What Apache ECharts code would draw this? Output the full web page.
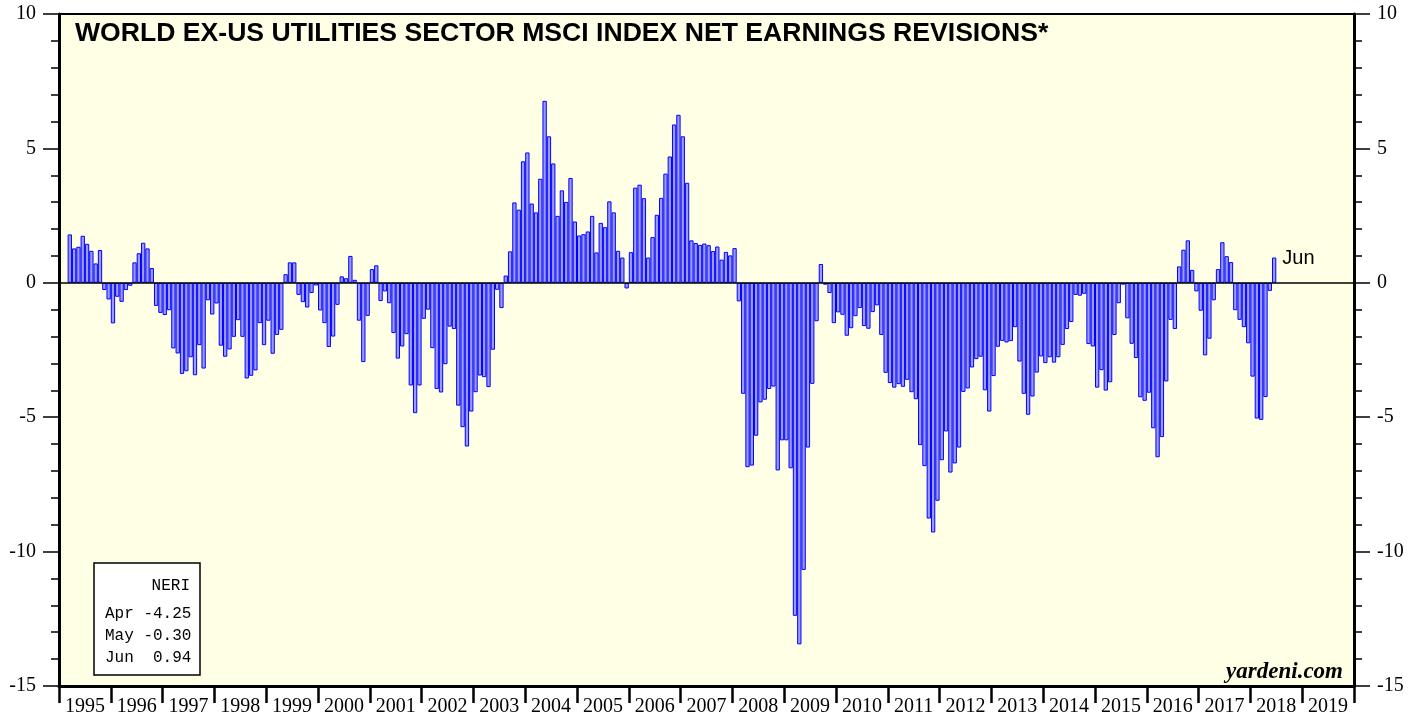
<!DOCTYPE html>
<html>
<head>
<meta charset="UTF-8">
<title>World ex-US Utilities NERI</title>
<script src="https://cdn.jsdelivr.net/npm/echarts@6/dist/echarts.min.js"></script>
<style>
html, body {margin:0; padding:0; background:#fff;}
#chart {width:1419px; height:717px;}
</style>
</head>
<body>
<div id="chart"></div>
<script>
// year bands along the bottom axis
var years = ['1995','1996','1997','1998','1999','2000','2001','2002','2003','2004','2005','2006',
             '2007','2008','2009','2010','2011','2012','2013','2014','2015','2016','2017','2018','2019'];
var monthNames = ['Jan','Feb','Mar','Apr','May','Jun','Jul','Aug','Sep','Oct','Nov','Dec'];

// first bar is Mar 1995 (month index 2 counted from Jan 1995)
var firstMonth = 2;

// monthly net earnings revisions, % (Mar 1995 .. Jun 2018)
var neri = [
    1.80, 1.28, 1.34, 1.75, 1.45, 1.19, 0.72, 1.22, -0.27, -0.62,                    // 1995
    -1.51, -0.52, -0.71, -0.27, -0.11, 0.76, 1.10, 1.49, 1.28, 0.55, -0.86, -1.12,   // 1996
    -1.20, -1.02, -2.44, -2.63, -3.39, -3.29, -2.77, -3.44, -2.32, -3.19, -0.65, -1.18, // 1997
    -0.77, -2.34, -2.75, -2.48, -2.01, -1.39, -2.01, -3.56, -3.46, -3.26, -1.50, -2.32, // 1998
    -1.41, -2.64, -1.94, -1.75, 0.32, 0.76, 0.76, -0.45, -0.72, -0.92, -0.38, -0.10, // 1999
    -1.03, -1.50, -2.39, -2.00, -0.82, 0.24, 0.17, 1.00, 0.11, -1.41, -2.95, -1.23,  // 2000
    0.51, 0.65, -0.68, -0.32, -0.76, -1.87, -2.82, -2.37, -1.91, -3.82, -4.85, -3.82, // 2001
    -1.34, -1.00, -2.43, -3.95, -4.08, -3.03, -1.63, -1.72, -4.57, -5.37, -6.09, -4.79, // 2002
    -4.07, -3.45, -3.51, -3.88, -2.49, -0.26, -0.94, 0.27, 1.17, 2.99, 2.72, 4.52,   // 2003
    4.85, 2.95, 2.62, 3.87, 6.77, 5.45, 4.44, 2.49, 3.44, 3.01, 3.90, 2.28,          // 2004
    1.76, 1.81, 1.91, 2.49, 1.13, 2.23, 2.07, 3.03, 2.62, 1.19, 0.94, -0.21,         // 2005
    1.14, 3.54, 3.65, 3.15, 0.94, 1.70, 2.53, 3.16, 4.06, 4.70, 5.89, 6.25,          // 2006
    5.45, 3.72, 1.58, 1.48, 1.41, 1.46, 1.40, 1.18, 1.35, 0.86, 1.15, 1.02,          // 2007
    1.29, -0.69, -4.13, -6.86, -6.80, -5.69, -4.45, -4.35, -3.95, -3.86, -6.98, -5.86, // 2008
    -5.86, -6.90, -12.39, -13.45, -10.68, -6.13, -3.76, -1.43, 0.70, -0.07, -0.38, -1.50, // 2009
    -1.10, -1.19, -1.97, -1.69, -1.24, -0.94, -1.61, -1.71, -1.09, -0.84, -1.94, -3.35, // 2010
    -3.73, -3.90, -3.77, -3.87, -3.61, -4.07, -4.33, -6.04, -6.82, -8.77, -9.29, -8.11, // 2011
    -6.60, -5.53, -7.06, -6.72, -6.13, -4.06, -3.93, -3.15, -2.84, -2.75, -4.00, -4.79, // 2012
    -3.47, -2.38, -2.16, -2.22, -2.17, -1.65, -2.93, -4.13, -4.91, -4.23, -3.34, -2.74, // 2013
    -2.99, -2.77, -2.97, -2.77, -2.31, -1.72, -1.46, -0.45, -0.48, -0.41, -2.28, -2.37, // 2014
    -3.90, -3.25, -4.01, -3.70, -1.94, -0.76, -0.07, -1.32, -2.27, -2.80, -4.26, -4.39, // 2015
    -4.09, -5.41, -6.49, -5.74, -3.67, -1.38, -1.72, 0.61, 1.23, 1.58, 0.48, -0.32,  // 2016
    -1.04, -2.70, -2.08, -0.65, 0.51, 1.51, 0.99, 0.77, -1.02, -1.38, -1.65, -2.25,  // 2017
    -3.49, -5.05, -5.10, -4.25, -0.30, 0.94                                          // 2018
];

// month categories for the bar axis
var monthCats = [];
for (var y = 0; y < years.length; y++) {
    for (var m = 0; m < 12; m++) monthCats.push(years[y] + '-' + monthNames[m]);
}

var lastIdx = firstMonth + neri.length - 1;
var barData = monthCats.map(function (c, i) {
    if (i < firstMonth || i > lastIdx) return null;
    var v = neri[i - firstMonth];
    if (i === lastIdx) {
        return {
            value: v,
            label: {
                show: true, position: ['100%', 0], offset: [6, 1],
                align: 'left', verticalAlign: 'middle',
                formatter: monthNames[i % 12],
                color: '#000', fontFamily: 'Liberation Sans', fontSize: 20
            }
        };
    }
    return v;
});

// legend box lines: last three months
var boxLines = [];
for (var k = lastIdx - 2; k <= lastIdx; k++) {
    var val = neri[k - firstMonth].toFixed(2);
    while (val.length < 5) val = ' ' + val;
    boxLines.push(monthNames[k % 12] + ' ' + val);
}

function yAxisCfg(pos) {
    return {
        type: 'value', position: pos, min: -15, max: 10, interval: 5,
        axisLine: {show: true, lineStyle: {color: '#000', width: 3}},
        axisTick: {show: true, length: 16, lineStyle: {color: '#000', width: 1.5}},
        minorTick: {show: true, splitNumber: 5, length: 8, lineStyle: {color: '#000', width: 1.5}},
        splitLine: {show: false},
        minorSplitLine: {show: false},
        axisLabel: {margin: 23, color: '#000', fontFamily: 'Liberation Serif', fontSize: 20}
    };
}

var myChart = echarts.init(document.getElementById('chart'));

var monoText = function (txt, x, y, align) {
    return {
        type: 'text', x: x, y: y, z: 101,
        style: {text: txt, fill: '#000', font: '16px "Liberation Mono"', align: align || 'left', verticalAlign: 'middle'}
    };
};

var option = {
    animation: false,
    backgroundColor: '#fff',
    grid: {
        left: 59, right: 65, top: 14, bottom: 31,
        show: true, backgroundColor: '#FFFFE6', borderColor: '#000', borderWidth: 2,
        outerBoundsMode: 'none'
    },
    xAxis: [
        {
            type: 'category', data: years, position: 'bottom', boundaryGap: true,
            axisLine: {onZero: false, lineStyle: {color: '#000', width: 3}},
            axisTick: {show: true, interval: 0, length: 17, lineStyle: {color: '#000', width: 2.5}},
            axisLabel: {interval: 0, margin: 11, color: '#000', fontFamily: 'Liberation Serif', fontSize: 20},
            splitLine: {show: false}
        },
        {type: 'category', data: monthCats, show: false}
    ],
    yAxis: [yAxisCfg('left'), yAxisCfg('right')],
    series: [{
        type: 'bar', xAxisIndex: 1, yAxisIndex: 0,
        data: barData,
        barCategoryGap: '0%', barGap: '0%',
        itemStyle: {color: '#9B9BFF', borderColor: '#0000FF', borderWidth: 1},
        emphasis: {disabled: true},
        markLine: {
            silent: true, symbol: 'none', label: {show: false},
            lineStyle: {color: '#000', width: 1.5, type: 'solid'},
            data: [{yAxis: 0}]
        }
    }],
    graphic: [
        {
            type: 'text', x: 75, y: 34, z: 100,
            style: {
                text: 'WORLD EX-US UTILITIES SECTOR MSCI INDEX NET EARNINGS REVISIONS*',
                fill: '#000', font: 'bold 26.6px "Liberation Sans"', verticalAlign: 'middle'
            }
        },
        {
            type: 'rect', z: 100,
            shape: {x: 94, y: 563, width: 106, height: 112},
            style: {fill: '#fff', stroke: '#000', lineWidth: 1.5}
        },
        monoText('NERI', 190, 586, 'right'),
        monoText(boxLines[0], 105, 614),
        monoText(boxLines[1], 105, 636),
        monoText(boxLines[2], 105, 658),
        {
            type: 'text', x: 1343, y: 672, z: 100,
            style: {
                text: 'yardeni.com', fill: '#000', align: 'right', verticalAlign: 'middle',
                font: 'italic bold 23px "Liberation Serif"'
            }
        }
    ]
};

myChart.setOption(option);
</script>
</body>
</html>
